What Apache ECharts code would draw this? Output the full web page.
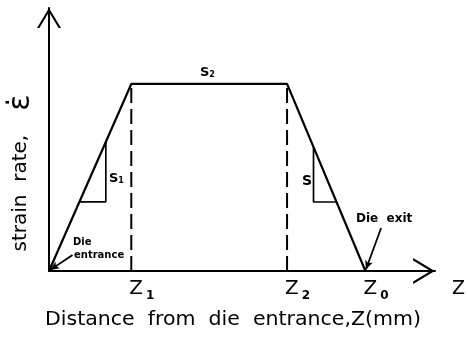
<!DOCTYPE html>
<html>
<head>
<meta charset="utf-8">
<script src="https://cdn.jsdelivr.net/npm/echarts@6/dist/echarts.min.js"></script>
<style>
html,body{margin:0;padding:0;background:#fff;}
#c{width:468px;height:340px;}
</style>
</head>
<body>
<div id="c"></div>
<script>
// ---- data (schematic units: distance in mm-like units, strain rate normalised to plateau = 1) ----
const profileX = [0, 8.4, 24.3, 32.3];      // die entrance, Z1, Z2, Z0
const profileY = [0, 1, 1, 0];               // strain rate profile
const zValues = [8.4, 24.3, 32.3];           // Z1, Z2, Z0 positions
const zSubs = ['1', '2', '0'];               // tick label subscripts
const dashedAt = [8.4, 24.3];                // dashed verticals at Z1, Z2
const slopeLeftX = [3.1, 5.8, 5.8];
const slopeLeftY = [0.37, 0.37, 0.69];
const slopeRightX = [27.0, 27.0, 29.35];
const slopeRightY = [0.663, 0.369, 0.369];
const entranceArrow = [[2.4, 0.086], [0.12, 0.006]];
const exitArrow = [[33.9, 0.23], [32.35, 0.008]];
const xMax = 39.4;
const yMax = 1.406;

const FONT = 'DejaVu Sans';
const zip = (xs, ys) => xs.map((x, i) => [x, ys[i]]);

const chart = echarts.init(document.getElementById('c'), null, {renderer: 'canvas'});

const chevron = 'path://M60,0 L120,100 L108,100 L60,20 L12,100 L0,100 Z';

const dashedSeries = dashedAt.map((z, i) => ({
  type: 'line',
  name: 'dash' + i,
  data: [[z, 0], [z, profileY[1]]],
  symbol: 'none',
  silent: true,
  lineStyle: {color: '#000', width: 2, type: [15, 6]},
  z: 2
}));

chart.setOption({
  animation: false,
  backgroundColor: '#fff',
  grid: {left: 49, right: 25, top: 8, bottom: 69, containLabel: false},
  xAxis: {
    type: 'value', min: 0, max: xMax,
    axisLine: {show: true, lineStyle: {color: '#000', width: 2},
      symbol: ['none', chevron], symbolSize: [26, 22], symbolOffset: [0, -11]},
    axisTick: {show: false},
    splitLine: {show: false},
    axisLabel: {
      show: true,
      customValues: zValues,
      margin: 8,
      align: 'left',
      formatter: function (v) {
        let i = zValues.findIndex(z => Math.abs(z - v) < 1e-6);
        if (i < 0) return '';
        return '{z|Z}{s|' + zSubs[i] + '}';
      },
      rich: {
        z: {fontFamily: FONT, fontSize: 20, color: '#000', lineHeight: 20, padding: [0, 0, 0, -2]},
        s: {fontFamily: FONT, fontSize: 12, fontWeight: 'bold', color: '#000', verticalAlign: 'bottom', padding: [0, 0, -3, 3]}
      }
    },
    name: 'Z',
    nameLocation: 'end',
    nameGap: 17,
    nameTextStyle: {fontFamily: FONT, fontSize: 19, color: '#000', align: 'left', verticalAlign: 'top', padding: [9, 0, 0, 0]}
  },
  yAxis: {
    type: 'value', min: 0, max: yMax,
    axisLine: {show: true, lineStyle: {color: '#000', width: 2},
      symbol: ['none', chevron], symbolSize: [24, 20], symbolOffset: [0, -10]},
    axisTick: {show: false},
    splitLine: {show: false},
    axisLabel: {show: false}
  },
  series: [
    {
      type: 'line', name: 'profile',
      data: zip(profileX, profileY),
      symbol: 'none', silent: true,
      lineStyle: {color: '#000', width: 2.2},
      z: 3,
      markLine: {
        silent: true,
        symbol: ['none', 'arrow'],
        symbolSize: [6, 9],
        label: {show: false},
        lineStyle: {color: '#000', width: 1.8, type: 'solid'},
        data: [
          [{coord: entranceArrow[0]}, {coord: entranceArrow[1]}],
          [{coord: exitArrow[0]}, {coord: exitArrow[1]}]
        ]
      }
    },
    ...dashedSeries,
    {
      type: 'line', name: 'slopeLeft',
      data: zip(slopeLeftX, slopeLeftY),
      symbol: 'none', silent: true,
      lineStyle: {color: '#000', width: 1.7}
    },
    {
      type: 'line', name: 'slopeRight',
      data: zip(slopeRightX, slopeRightY),
      symbol: 'none', silent: true,
      lineStyle: {color: '#000', width: 1.7}
    }
  ],
  graphic: [
    {
      type: 'text', x: 233, y: 320, scaleX: 1.08,
      style: {text: 'Distance  from  die  entrance,Z(mm)', fontFamily: FONT, fontSize: 19, fill: '#000', align: 'center', verticalAlign: 'middle'}
    },
    {
      type: 'text', x: 21, y: 173, rotation: Math.PI / 2,
      style: {
        text: '{a|strain  rate,}{b|ε̇}',
        align: 'center', verticalAlign: 'middle',
        rich: {
          a: {fontFamily: FONT, fontSize: 20, fill: '#000'},
          b: {fontFamily: FONT, fontSize: 30, fill: '#000', padding: [0, 0, 0, 24]}
        }
      }
    },
    {
      type: 'text', x: 109, y: 172,
      style: {text: '{s|S}{t|1}', rich: {
        s: {fontFamily: FONT, fontSize: 13, fontWeight: 'bold', fill: '#000'},
        t: {fontFamily: FONT, fontSize: 8, fontWeight: 'bold', fill: '#000', verticalAlign: 'bottom'}
      }}
    },
    {
      type: 'text', x: 200, y: 66,
      style: {text: '{s|S}{t|2}', rich: {
        s: {fontFamily: FONT, fontSize: 13, fontWeight: 'bold', fill: '#000'},
        t: {fontFamily: FONT, fontSize: 8, fontWeight: 'bold', fill: '#000', verticalAlign: 'bottom'}
      }}
    },
    {
      type: 'text', x: 302, y: 174,
      style: {text: 'S', fontFamily: FONT, fontSize: 14, fontWeight: 'bold', fill: '#000'}
    },
    {
      type: 'text', x: 73, y: 237,
      style: {text: 'Die', fontFamily: FONT, fontSize: 10, fontWeight: 'bold', fill: '#000'}
    },
    {
      type: 'text', x: 74, y: 250,
      style: {text: 'entrance', fontFamily: FONT, fontSize: 10, fontWeight: 'bold', fill: '#000'}
    },
    {
      type: 'text', x: 356, y: 213,
      style: {text: 'Die  exit', fontFamily: FONT, fontSize: 12, fontWeight: 'bold', fill: '#000'}
    }
  ]
});
</script>
</body>
</html>
